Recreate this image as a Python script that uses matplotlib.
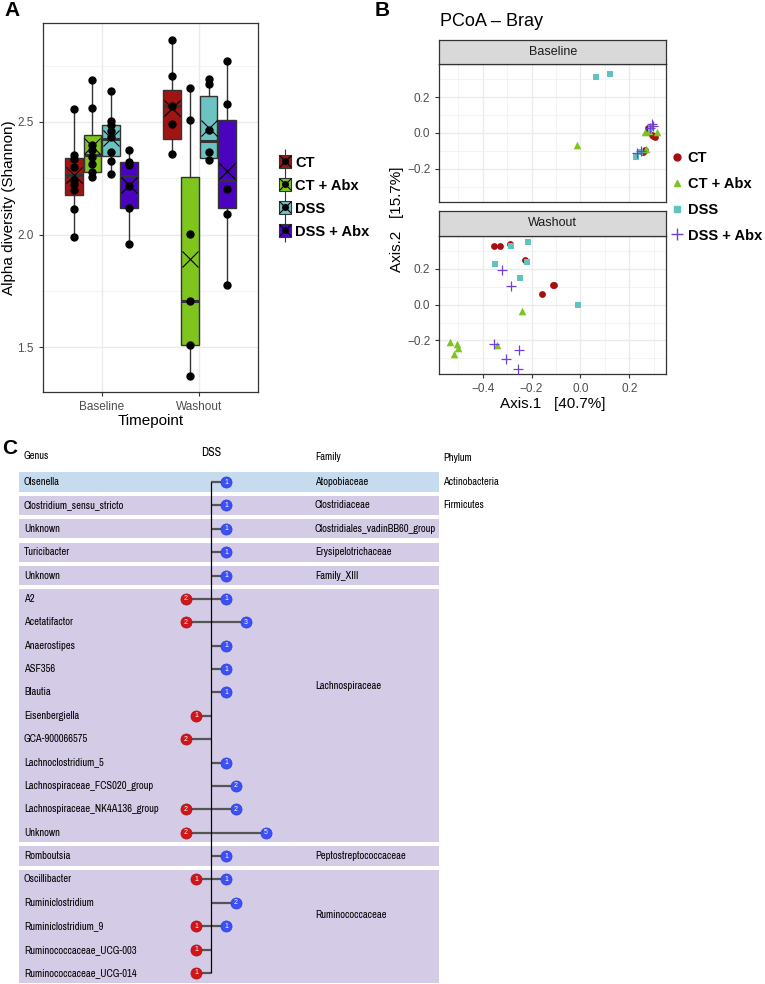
import matplotlib
matplotlib.use('Agg')
import matplotlib.pyplot as plt
from matplotlib.patches import Patch, Rectangle
from matplotlib.lines import Line2D
from matplotlib.legend_handler import HandlerTuple
import numpy as np

plt.rcParams['font.family'] = ['Liberation Sans', 'DejaVu Sans']

# ---------------- data ----------------
groups = ['CT', 'CT + Abx', 'DSS', 'DSS + Abx']
timepoints = ['Baseline', 'Washout']
group_colors = ['#A11414', '#80C41E', '#6CC4C2', '#4A04BF']

# panel A: alpha diversity, points per group (Baseline / Washout)
alpha_baseline = [
    [2.556, 2.355, 2.337, 2.30, 2.24, 2.226, 2.196, 2.114, 1.987],
    [2.685, 2.562, 2.40, 2.377, 2.344, 2.315, 2.277, 2.255],
    [2.638, 2.504, 2.485, 2.46, 2.433, 2.365, 2.325, 2.27],
    [2.374, 2.322, 2.307, 2.214, 2.12, 1.957],
]
alpha_washout = [
    [2.864, 2.705, 2.573, 2.49, 2.358],
    [2.651, 2.507, 2.003, 1.703, 1.509, 1.37],
    [2.693, 2.67, 2.463, 2.366, 2.33],
    [2.77, 2.582, 2.202, 2.089, 1.774],
]
# box stats: q1, median, q3, lower whisker, upper whisker, mean
stats_baseline = [
    [2.177, 2.263, 2.34, 1.987, 2.556, 2.266],
    [2.277, 2.352, 2.444, 2.255, 2.685, 2.393],
    [2.35, 2.424, 2.485, 2.27, 2.638, 2.43],
    [2.12, 2.261, 2.322, 1.957, 2.374, 2.218],
]
stats_washout = [
    [2.424, 2.573, 2.641, 2.358, 2.864, 2.562],
    [1.509, 1.703, 2.255, 1.37, 2.651, 1.892],
    [2.34, 2.414, 2.616, 2.33, 2.693, 2.473],
    [2.117, 2.243, 2.51, 1.774, 2.77, 2.283],
]

# panel B: PCoA coordinates (Axis.1, Axis.2)
pcoa_baseline = {
    'CT': ([0.276, 0.279, 0.293, 0.306, 0.298, 0.256, 0.265],
           [0.026, 0.012, -0.011, -0.024, -0.018, -0.104, -0.095]),
    'CT + Abx': ([-0.015, 0.265, 0.313, 0.27, 0.28],
                 [-0.069, 0.004, 0.007, -0.09, 0.01]),
    'DSS': ([0.064, 0.122, 0.228, 0.245, 0.29],
            [0.311, 0.330, -0.136, -0.104, 0.03]),
    'DSS + Abx': ([0.293, 0.299, 0.287, 0.234, 0.25],
                  [0.050, 0.039, 0.030, -0.114, -0.098]),
}
pcoa_washout = {
    'CT': ([-0.352, -0.329, -0.288, -0.227, -0.158, -0.111, -0.108],
           [0.326, 0.328, 0.341, 0.251, 0.058, 0.112, 0.110]),
    'CT + Abx': ([-0.238, -0.534, -0.507, -0.5, -0.518, -0.340],
                 [-0.035, -0.209, -0.218, -0.240, -0.274, -0.227]),
    'DSS': ([-0.283, -0.216, -0.219, -0.351, -0.249, -0.010],
            [0.328, 0.350, 0.238, 0.229, 0.149, 0.0]),
    'DSS + Abx': ([-0.321, -0.285, -0.352, -0.25, -0.306, -0.255],
                  [0.196, 0.102, -0.218, -0.253, -0.305, -0.358]),
}
pcoa_markers = ['o', '^', 's', '+']
pcoa_colors = ['#A50F12', '#7CC420', '#62C2C0', '#7040D8']

# panel C: genera, counts of decreased (red) / increased (blue) in DSS
genera = ['Olsenella', 'Clostridium_sensu_stricto', 'Unknown', 'Turicibacter', 'Unknown',
          'A2', 'Acetatifactor', 'Anaerostipes', 'ASF356', 'Blautia', 'Eisenbergiella',
          'GCA-900066575', 'Lachnoclostridium_5', 'Lachnospiraceae_FCS020_group',
          'Lachnospiraceae_NK4A136_group', 'Unknown', 'Romboutsia', 'Oscillibacter',
          'Ruminiclostridium', 'Ruminiclostridium_9', 'Ruminococcaceae_UCG-003',
          'Ruminococcaceae_UCG-014']
dss_down = [0, 0, 0, 0, 0, 2, 2, 0, 0, 0, 1, 2, 0, 0, 2, 2, 0, 1, 0, 1, 1, 1]
dss_up = [1, 1, 1, 1, 1, 1, 3, 1, 1, 1, 0, 0, 1, 2, 2, 5, 1, 1, 2, 1, 0, 0]
# family: name, first row, last row, label row
families = [
    ('Atopobiaceae', 0, 0, 0),
    ('Clostridiaceae', 1, 1, 1),
    ('Clostridiales_vadinBB60_group', 2, 2, 2),
    ('Erysipelotrichaceae', 3, 3, 3),
    ('Family_XIII', 4, 4, 4),
    ('Lachnospiraceae', 5, 15, 8.72),
    ('Peptostreptococcaceae', 16, 16, 16),
    ('Ruminococcaceae', 17, 21, 18.53),
]
phyla = [('Actinobacteria', 0), ('Firmicutes', 1)]

# ---------------- figure ----------------
W, H = 765, 984
fig = plt.figure(figsize=(W / 100, H / 100), dpi=100)


def box(x0, y0, x1, y1):
    return [x0 / W, 1 - y1 / H, (x1 - x0) / W, (y1 - y0) / H]


def style_gg(ax):
    for s in ax.spines.values():
        s.set_color('#333333')
        s.set_linewidth(0.9)
    ax.tick_params(colors='#333333', labelcolor='#4D4D4D', labelsize=8.5, length=3, width=0.8)
    ax.grid(True, which='major', color='#EBEBEB', lw=1.0)
    ax.grid(True, which='minor', color='#F2F2F2', lw=0.6)
    ax.tick_params(which='minor', length=0)
    ax.set_axisbelow(True)


# ---- Panel A ----
axA = fig.add_axes(box(43, 23, 258, 392))
offsets = (np.arange(4) - 1.5) * 0.1875
for ti, (pts_list, st_list) in enumerate([(alpha_baseline, stats_baseline),
                                          (alpha_washout, stats_washout)]):
    for gi in range(4):
        pos = ti + 1 + offsets[gi]
        q1, med, q3, lo, hi, mean = st_list[gi]
        st = dict(q1=q1, med=med, q3=q3, whislo=lo, whishi=hi, mean=mean, fliers=[])
        axA.bxp([st], positions=[pos], widths=0.18, patch_artist=True,
                showmeans=True, showcaps=False, showfliers=False,
                boxprops=dict(facecolor=group_colors[gi], edgecolor='#333333', lw=1.0),
                medianprops=dict(color='#333333', lw=2.2),
                whiskerprops=dict(color='#333333', lw=1.0),
                meanprops=dict(marker='x', markersize=11, markeredgecolor='black',
                               markeredgewidth=0.8))
        pts = pts_list[gi]
        axA.plot(np.full(len(pts), pos), pts, 'o', color='black', ms=5, zorder=4)

axA.set_xlim(0.4, 2.6)
axA.set_ylim(1.30, 2.94)
axA.set_xticks([1, 2])
axA.set_xticklabels(timepoints)
axA.set_yticks([1.5, 2.0, 2.5])
axA.set_yticks([1.75, 2.25, 2.75], minor=True)
style_gg(axA)
axA.set_xlabel('Timepoint', fontsize=11, labelpad=1)
fig.text(9 / W, 1 - 208 / H, 'Alpha diversity (Shannon)', fontsize=11, rotation=90,
         ha='center', va='center')

handlesA = [(Line2D([], [], marker='|', color='#333333', ls='none', ms=17, mew=0.8),
             Patch(facecolor=c, edgecolor='#333333', lw=0.8),
             Line2D([], [], marker='x', color='black', ls='none', ms=8, mew=0.8),
             Line2D([], [], marker='o', color='black', ls='none', ms=4))
            for c in group_colors]
fig.legend(handlesA, groups, handler_map={tuple: HandlerTuple(ndivide=1)},
           loc='center left', bbox_to_anchor=(279 / W, 1 - 197 / H), frameon=False,
           prop=dict(weight='bold', size=10.5), handlelength=0.8, handleheight=1.0,
           labelspacing=0.59, handletextpad=0.3, borderpad=0, borderaxespad=0)

# ---- Panel B ----
axB1 = fig.add_axes(box(439.3, 64, 666.3, 202.3))
axB2 = fig.add_axes(box(439.3, 235.7, 666.3, 374))
for ax, data, label, sy in [(axB1, pcoa_baseline, 'Baseline', (40, 64)),
                             (axB2, pcoa_washout, 'Washout', (210.7, 235.7))]:
    for gi, g in enumerate(groups):
        xs, ys = data[g]
        if pcoa_markers[gi] == '+':
            ax.scatter(xs, ys, marker='+', s=50, color=pcoa_colors[gi], lw=0.9, zorder=3)
        else:
            ax.scatter(xs, ys, marker=pcoa_markers[gi], s=24 if gi != 1 else 30,
                       color=pcoa_colors[gi], lw=0, zorder=3)
    ax.set_xlim(-0.578, 0.352)
    ax.set_ylim(-0.387, 0.385)
    ax.set_xticks([-0.4, -0.2, 0.0, 0.2])
    ax.set_xticks([-0.5, -0.3, -0.1, 0.1, 0.3], minor=True)
    ax.set_yticks([-0.2, 0.0, 0.2])
    ax.set_yticks([-0.3, -0.1, 0.1, 0.3], minor=True)
    style_gg(ax)
    strip = fig.add_axes(box(439.3, sy[0], 666.3, sy[1]))
    strip.set_facecolor('#D9D9D9')
    strip.set_xticks([])
    strip.set_yticks([])
    for s in strip.spines.values():
        s.set_color('#333333')
        s.set_linewidth(0.9)
    strip.text(0.5, 0.5, label, ha='center', va='center', fontsize=9, color='#1A1A1A',
               transform=strip.transAxes)
axB1.tick_params(axis='x', labelbottom=False, length=0)

fig.text(440 / W, 1 - 22 / H, 'PCoA \u2013 Bray', fontsize=13, ha='left', va='center')
fig.text(397 / W, 1 - 219 / H, 'Axis.2   [15.7%]', fontsize=11, rotation=90,
         ha='center', va='center')
fig.text(553 / W, 1 - 404 / H, 'Axis.1   [40.7%]', fontsize=11, ha='center', va='center')

handlesB = [Line2D([], [], marker=m, color=c, ls='none', ms=5 if m != '+' else 8, mew=1)
            for m, c in zip(pcoa_markers, pcoa_colors)]
fig.legend(handlesB, groups, loc='center left', bbox_to_anchor=(671 / W, 1 - 197 / H),
           frameon=False, prop=dict(weight='bold', size=10.5), handlelength=0.8,
           labelspacing=0.8, handletextpad=0.35, borderpad=0, borderaxespad=0)

# ---- Panel C ----
cfam = ['Archivo Narrow', 'Liberation Sans']
csize = 7.6

row0_px, row_px = 482, 23.38
c_top, c_bot = 440, 984
ylim_c = ((c_bot - row0_px) / row_px, (c_top - row0_px) / row_px)

axC = fig.add_axes(box(0, c_top, W, c_bot))
axC.set_xlim(0, W)
axC.set_ylim(*ylim_c)
axC.axis('off')
gap = 0.09
for fam, r0, r1, rl in families:
    col = '#C7DBEE' if fam == 'Atopobiaceae' else '#D4CCE7'
    axC.add_patch(Rectangle((19, r0 - 0.5 + gap), 420, (r1 - r0 + 1) - 2 * gap,
                            facecolor=col, edgecolor='none'))
    axC.text(315, rl, fam, fontsize=csize, family=cfam, va='center', ha='left')
for i, g in enumerate(genera):
    axC.text(24, i, g, fontsize=csize, family=cfam, va='center', ha='left')
for ph, r in phyla:
    axC.text(443, r, ph, fontsize=csize, family=cfam, va='center', ha='left')
axC.text(24, -1.11, 'Genus', fontsize=csize, family=cfam, va='center')
axC.text(211, -1.28, 'DSS', fontsize=csize + 1.0, family=cfam, va='center', ha='center')
axC.text(315, -1.08, 'Family', fontsize=csize, family=cfam, va='center')
axC.text(443, -1.03, 'Phylum', fontsize=csize, family=cfam, va='center')

# lollipop overlay, 10 px per count, centre line at x = 211 px
axL = fig.add_axes(box(0, c_top, W, c_bot))
axL.set_xlim(-211 / 10, (W - 211) / 10)
axL.set_ylim(*ylim_c)
axL.axis('off')
rows = np.arange(len(genera))
down = np.array(dss_down)
up = np.array(dss_up)
axL.vlines(0, 0, len(genera) - 1, color='black', lw=0.9, zorder=2)
for r, d, u in zip(rows, down, up):
    if d > 0:
        axL.hlines(r, -(d + 0.5), 0, color='#555555', lw=1.6, zorder=1)
        axL.plot(-(d + 0.5), r, 'o', ms=8, color='#D0161B', mec='#B01010', mew=0.5, zorder=3)
        axL.text(-(d + 0.5), r, str(d), color='white', fontsize=5, ha='center',
                 va='center', zorder=4)
    if u > 0:
        axL.hlines(r, 0, u + 0.5, color='#555555', lw=1.6, zorder=1)
        axL.plot(u + 0.5, r, 'o', ms=8, color='#3D50F5', mec='#2A3FE0', mew=0.5, zorder=3)
        axL.text(u + 0.5, r, str(u), color='white', fontsize=5, ha='center',
                 va='center', zorder=4)

# panel letters
fig.text(4 / W, 1 - 11 / H, 'A', fontsize=15, weight='bold', va='center')
fig.text(375 / W, 1 - 11 / H, 'B', fontsize=15, weight='bold', va='center')
fig.text(2 / W, 1 - 449 / H, 'C', fontsize=15, weight='bold', va='center')

fig.savefig('out.png', dpi=100)
